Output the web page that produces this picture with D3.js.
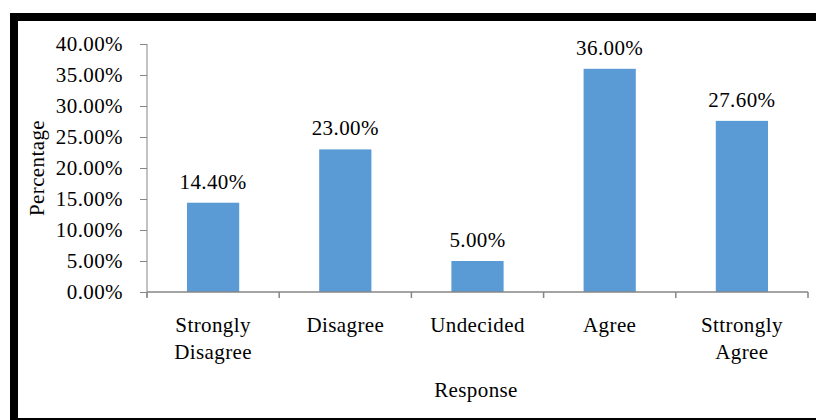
<!DOCTYPE html>
<html>
<head>
<meta charset="utf-8">
<script src="https://cdn.jsdelivr.net/npm/d3@7"></script>
<style>
  html, body { margin: 0; padding: 0; background: #fff; }
  svg { display: block; }
  svg text { font-family: "Liberation Serif", "DejaVu Serif", serif; fill: #000; letter-spacing: 0.4px; }
</style>
</head>
<body>
<svg id="chart" width="816" height="420"></svg>
<script>
// Survey responses (share of respondents)
const categories = ["Strongly Disagree", "Disagree", "Undecided", "Agree", "Sttrongly Agree"];
const categoryLines = [["Strongly", "Disagree"], ["Disagree"], ["Undecided"], ["Agree"], ["Sttrongly", "Agree"]];
const values = [14.40, 23.00, 5.00, 36.00, 27.60];
const yTicks = [0, 5, 10, 15, 20, 25, 30, 35, 40];

const svg = d3.select("#chart");
const axisColor = "#868686";
const barColor = "#5B9BD5";
const serif = "Liberation Serif, DejaVu Serif, serif";
const fs = 21;

// Frame around the chart
svg.append("rect").attr("x", 10).attr("y", 13).attr("width", 806).attr("height", 8).attr("fill", "#000");
svg.append("rect").attr("x", 10).attr("y", 13).attr("width", 8).attr("height", 407).attr("fill", "#000");
svg.append("rect").attr("x", 10).attr("y", 418).attr("width", 806).attr("height", 2).attr("fill", "#000");

const plot = { left: 147, right: 808, top: 44, bottom: 292 };

const x = d3.scaleBand().domain(categories).range([plot.left, plot.right]).padding(0);
const y = d3.scaleLinear().domain([0, 40]).range([plot.bottom, plot.top]);

const barW = x.bandwidth() * 0.395;

// Bars
svg.selectAll("rect.bar").data(values).join("rect")
  .attr("class", "bar")
  .attr("x", (d, i) => x(categories[i]) + x.bandwidth() / 2 - barW / 2)
  .attr("y", d => y(d))
  .attr("width", barW)
  .attr("height", d => y(0) - y(d))
  .attr("fill", barColor);

// Value labels
svg.selectAll("text.val").data(values).join("text")
  .attr("class", "val")
  .attr("x", (d, i) => x(categories[i]) + x.bandwidth() / 2)
  .attr("y", d => y(d) - 14)
  .attr("text-anchor", "middle")
  .attr("font-family", serif)
  .attr("font-size", fs)
  .text(d => d.toFixed(2) + "%");

// Y axis
const yAxis = d3.axisLeft(y).tickValues(yTicks).tickSize(7).tickPadding(17)
  .tickFormat(d => d.toFixed(2) + "%");
const gy = svg.append("g").attr("transform", `translate(${plot.left},0)`).call(yAxis)
  .attr("font-family", serif).attr("font-size", fs);
gy.select(".domain").attr("stroke", axisColor).attr("d", `M0,${plot.top}V${plot.bottom + 5}`);
gy.selectAll(".tick line").attr("stroke", axisColor);
gy.selectAll(".tick text").attr("dy", "0.33em");

// X axis: ticks at category boundaries
const gx = svg.append("g").attr("transform", `translate(0,${plot.bottom})`);
gx.append("line").attr("x1", plot.left).attr("x2", plot.right).attr("y1", 0).attr("y2", 0)
  .attr("stroke", axisColor).attr("stroke-width", 1.5);
const bounds = categories.map(c => x(c)).concat([plot.right]);
gx.selectAll("line.tk").data(bounds).join("line")
  .attr("class", "tk")
  .attr("x1", d => d).attr("x2", d => d)
  .attr("y1", 0).attr("y2", 6)
  .attr("stroke", axisColor).attr("stroke-width", 1.5);

// Category labels
const catText = svg.selectAll("text.cat").data(categoryLines).join("text")
  .attr("class", "cat")
  .attr("text-anchor", "middle")
  .attr("font-family", serif)
  .attr("font-size", fs)
  .attr("transform", (d, i) => `translate(${x(categories[i]) + x.bandwidth() / 2},332)`);
catText.selectAll("tspan").data(d => d).join("tspan")
  .attr("x", 0)
  .attr("dy", (d, i) => i === 0 ? 0 : 27)
  .text(d => d);

// Axis titles
svg.append("text")
  .attr("x", 476).attr("y", 397)
  .attr("text-anchor", "middle")
  .attr("font-family", serif)
  .attr("font-size", fs)
  .text("Response");

svg.append("text")
  .attr("transform", "translate(44,168) rotate(-90)")
  .attr("text-anchor", "middle")
  .attr("font-family", serif)
  .attr("font-size", fs)
  .text("Percentage");
</script>
</body>
</html>
